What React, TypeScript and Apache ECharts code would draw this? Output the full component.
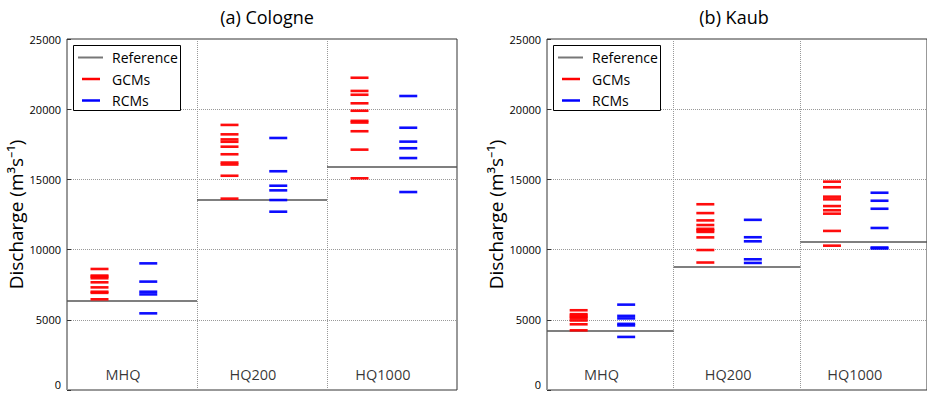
import React, { useEffect, useRef } from "react";
import * as echarts from "echarts";

const categories = ["MHQ", "HQ200", "HQ1000"];
const yTicks = [0, 5000, 10000, 15000, 20000, 25000];

const cologneReference = [6360, 13580, 15900];
const cologneGCMs = [
  [8620, 8150, 8080, 7960, 7670, 7310, 7000, 6920, 6460],
  [18880, 18210, 17850, 17680, 17330, 16790, 16200, 16060, 15260, 13630],
  [22240, 21300, 21030, 20420, 19890, 19170, 19050, 18430, 17120, 15080],
];
const cologneRCMs = [
  [9020, 7720, 7000, 6810, 5460],
  [17950, 15580, 14550, 14220, 13530, 12700],
  [20940, 18680, 17690, 17220, 16520, 14100],
];

const kaubReference = [4250, 8810, 10570];
const kaubGCMs = [
  [5680, 5400, 5300, 5200, 5100, 4950, 4680, 4250],
  [13230, 12600, 12080, 11750, 11480, 11380, 11260, 10870, 9970, 9080],
  [14840, 14440, 13770, 13580, 13100, 12800, 12560, 11330, 10280],
];
const kaubRCMs = [
  [6080, 5280, 5100, 4710, 4600, 3780],
  [12120, 10880, 10590, 9310, 9050],
  [14050, 13480, 12910, 11540, 10150, 10080],
];

const panels = [
  { title: "(a) Cologne", ref: cologneReference, gcm: cologneGCMs, rcm: cologneRCMs, left: 67, titleX: 267 },
  { title: "(b) Kaub", ref: kaubReference, gcm: kaubGCMs, rcm: kaubRCMs, left: 547, titleX: 734 },
];

const FONT = "Open Sans";

export default function App() {
  const ref = useRef<HTMLDivElement>(null);
  useEffect(() => {
    if (!ref.current) return;
    const chart = echarts.init(ref.current, null, { renderer: "svg" });
    const grids: any[] = [];
    const xAxes: any[] = [];
    const yAxes: any[] = [];
    const series: any[] = [];
    const graphics: any[] = [];
    panels.forEach((p, pi) => {
      grids.push({
        left: p.left, top: 39, width: 390, height: 351,
        show: true, borderColor: "#333", borderWidth: 1, backgroundColor: "transparent",
      });
      xAxes.push({
        type: "value", gridIndex: pi, min: 0, max: 3, interval: 1,
        axisLabel: { show: false }, axisTick: { show: false }, axisLine: { show: false },
        splitLine: { show: true, lineStyle: { type: "dotted", color: "#999", width: 1 } },
      });
      yAxes.push({
        type: "value", gridIndex: pi, min: yTicks[0], max: yTicks[yTicks.length - 1], interval: 5000,
        axisLine: { show: false },
        axisTick: { show: true, inside: true, length: 4, lineStyle: { color: "#333" } },
        axisLabel: {
          fontSize: 11, color: "#000", margin: 6, fontFamily: FONT,
          verticalAlignMinLabel: "bottom",
          formatter: (v: number) => String(v),
        },
        splitLine: { show: true, lineStyle: { type: "dotted", color: "#999", width: 1 } },
        name: "Discharge (m³s⁻¹)", nameLocation: "middle", nameGap: 38,
        nameTextStyle: { fontSize: 19, color: "#000", fontFamily: FONT },
      });
      series.push({
        type: "lines", coordinateSystem: "cartesian2d", xAxisIndex: pi, yAxisIndex: pi,
        z: 3,
        lineStyle: { color: "#555", width: 1.5, opacity: 1 },
        data: categories.map((c, i) => ({ coords: [[i, p.ref[i]], [i + 1, p.ref[i]]] })),
      });
      series.push({
        type: "scatter", name: "GCMs", xAxisIndex: pi, yAxisIndex: pi, z: 4,
        symbol: "rect", symbolSize: [18, 2.6],
        itemStyle: { color: "#ff0000", opacity: 0.95 },
        data: p.gcm.flatMap((vals, i) => vals.map((v) => [i + 0.25, v])),
      });
      series.push({
        type: "scatter", name: "RCMs", xAxisIndex: pi, yAxisIndex: pi, z: 4,
        symbol: "rect", symbolSize: [18, 2.6],
        itemStyle: { color: "#0000ff", opacity: 0.95 },
        data: p.rcm.flatMap((vals, i) => vals.map((v) => [i + 0.625, v])),
      });
      series.push({
        type: "scatter", xAxisIndex: pi, yAxisIndex: pi, symbolSize: 0, silent: true,
        label: {
          show: true, position: "inside", formatter: "{b}", fontSize: 14.5,
          color: "#000", fontFamily: FONT,
        },
        data: categories.map((c, i) => ({ name: c, value: [i + 0.43, 1070] })),
      });
      const dx = p.left - 67;
      graphics.push({
        type: "text", x: p.titleX, y: 17,
        style: { text: p.title, fontSize: 18, fontFamily: FONT, fill: "#000", align: "center", verticalAlign: "middle" },
      });
      graphics.push({
        type: "rect", z: 100, shape: { x: 73.5 + dx, y: 45.5, width: 107, height: 65 },
        style: { fill: "#fff", stroke: "#000", lineWidth: 1 },
      });
      const items = [
        { label: "Reference", color: "#777", x1: 78, x2: 103, y: 57.5, w: 2 },
        { label: "GCMs", color: "#ff0000", x1: 82, x2: 100, y: 79, w: 2.5 },
        { label: "RCMs", color: "#0000ff", x1: 82, x2: 100, y: 100.5, w: 2.5 },
      ];
      items.forEach((it) => {
        graphics.push({
          type: "line", z: 101,
          shape: { x1: it.x1 + dx, y1: it.y, x2: it.x2 + dx, y2: it.y },
          style: { stroke: it.color, lineWidth: it.w },
        });
        graphics.push({
          type: "text", z: 101, x: 112 + dx, y: it.y,
          style: { text: it.label, fontSize: 14, fontFamily: FONT, fill: "#000", align: "left", verticalAlign: "middle" },
        });
      });
    });
    chart.setOption({
      animation: false,
      textStyle: { fontFamily: FONT },
      grid: grids,
      xAxis: xAxes,
      yAxis: yAxes,
      series,
      graphic: graphics,
    });
    return () => chart.dispose();
  }, []);
  return (
    <div
      ref={ref}
      style={{ position: "fixed", left: 0, top: 0, width: 927, height: 393, background: "#fff" }}
    />
  );
}
